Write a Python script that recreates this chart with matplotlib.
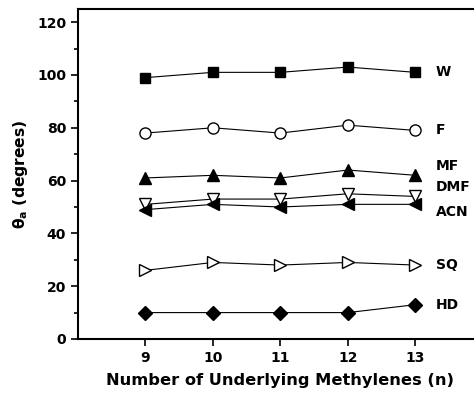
import matplotlib
matplotlib.use('Agg')
import matplotlib.pyplot as plt

plt.rcParams['font.family'] = ['DejaVu Sans']
plt.rcParams['font.weight'] = 'bold'
plt.rcParams['mathtext.fontset'] = 'dejavusans'

# 数据
n = [9, 10, 11, 12, 13]
w = [99, 101, 101, 103, 101]
f = [78, 80, 78, 81, 79]
mf = [61, 62, 61, 64, 62]
dmf = [51, 53, 53, 55, 54]
acn = [49, 51, 50, 51, 51]
sq = [26, 29, 28, 29, 28]
hd = [10, 10, 10, 10, 13]

labels = ['W', 'F', 'MF', 'DMF', 'ACN', 'SQ', 'HD']
label_y = [101, 79, 65.5, 57.5, 48, 28, 13]

fig = plt.figure(figsize=(4.74, 3.94), dpi=100)
ax = fig.add_axes([0.1646, 0.1396, 0.854, 0.8376])

ax.plot(n, w, '-s', color='black', mfc='black', ms=7, lw=0.8)
ax.plot(n, f, '-o', color='black', mfc='white', ms=8, lw=0.8)
ax.plot(n, mf, '-^', color='black', mfc='black', ms=8, lw=0.8)
ax.plot(n, dmf, '-v', color='black', mfc='white', ms=8, lw=0.8)
ax.plot(n, acn, '-<', color='black', mfc='black', ms=8, lw=0.8)
ax.plot(n, sq, '->', color='black', mfc='white', ms=8, lw=0.8)
ax.plot(n, hd, '-D', color='black', mfc='black', ms=7, lw=0.8)

for lab, y in zip(labels, label_y):
    ax.text(13.3, y, lab, fontsize=10, fontweight='bold', va='center', ha='left')

ax.set_xlim(8, 14)
ax.set_ylim(0, 125)
ax.set_xticks(n)
ax.set_yticks(range(0, 121, 20))
ax.set_yticks(range(10, 121, 20), minor=True)
ax.tick_params(direction='out', width=1.2, length=5, labelsize=10)
ax.tick_params(which='minor', direction='out', width=1.2, length=3)
for sp in ax.spines.values():
    sp.set_linewidth(1.5)

ax.set_xlabel('Number of Underlying Methylenes (n)', fontsize=11.7, fontweight='bold', labelpad=6)
ax.set_ylabel(r'$\mathbf{\theta_a}$ (degrees)', fontsize=11.2, fontweight='bold', labelpad=5)

plt.savefig('out.png', dpi=100)
